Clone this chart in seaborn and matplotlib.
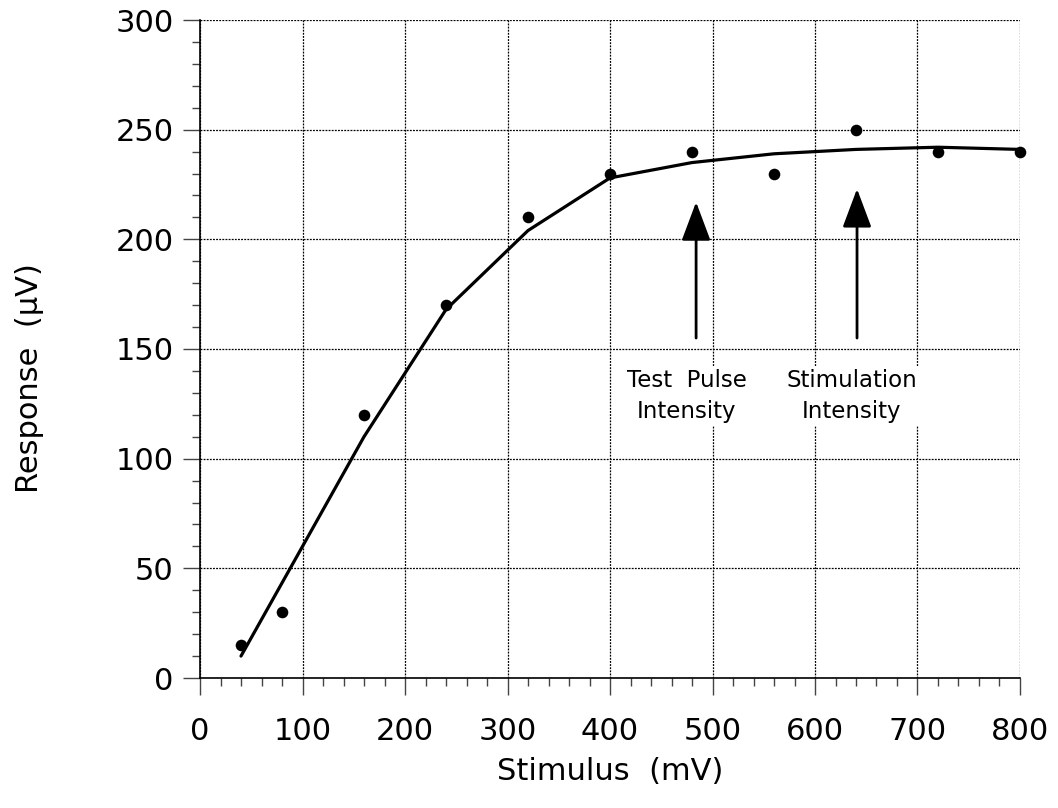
import matplotlib
matplotlib.use("Agg")
import matplotlib.pyplot as plt
from matplotlib.ticker import MultipleLocator
import numpy as np
import pandas as pd
import seaborn as sns

# Measured responses at each stimulus intensity
stim_points = [40, 80, 160, 240, 320, 400, 480, 560, 640, 720, 800]
resp_points = [15, 30, 120, 170, 210, 230, 240, 230, 250, 240, 240]

# Fitted input/output curve
stim_fit = [40, 160, 240, 320, 400, 480, 560, 640, 720, 800]
resp_fit = [10, 110, 168, 204, 228, 235, 239, 241, 242, 241]

# Annotated intensities (arrow x, tip y, tail y, label x, label)
arrow_x = [484, 641]
arrow_tip = [217, 223]
arrow_tail = [155, 155]
label_x = [475, 636]
arrow_labels = ["Test  Pulse\nIntensity", "Stimulation\nIntensity"]

x_ticks = [0, 100, 200, 300, 400, 500, 600, 700, 800]
y_ticks = [0, 50, 100, 150, 200, 250, 300]

sns.set_style("white")
plt.rcParams["font.family"] = ["DejaVu Sans"]

fig = plt.figure(figsize=(10.58, 8.08), dpi=100)
ax = fig.add_axes([200 / 1058, 130 / 808, 820 / 1058, 658 / 808])

df_pts = pd.DataFrame({"stim": stim_points, "resp": resp_points})
df_fit = pd.DataFrame({"stim": stim_fit, "resp": resp_fit})

sns.lineplot(data=df_fit, x="stim", y="resp", ax=ax, color="black",
             linewidth=2.3, zorder=3)
sns.scatterplot(data=df_pts, x="stim", y="resp", ax=ax, color="black",
                s=70, edgecolor="black", linewidth=0, zorder=4, clip_on=False)

for x, tip, tail, lx, lab in zip(arrow_x, arrow_tip, arrow_tail, label_x,
                                 arrow_labels):
    ax.annotate("", xy=(x, tip), xytext=(x, tail),
                arrowprops=dict(arrowstyle="-|>,head_length=2.4,head_width=0.9",
                                mutation_scale=10, color="black", lw=2.0,
                                shrinkA=0, shrinkB=0), zorder=5)
    ax.text(lx, 141, lab, ha="center", va="top", fontsize=16.5,
            linespacing=1.45, color="black", zorder=2,
            bbox=dict(facecolor="white", edgecolor="none", pad=2))

ax.set_xlim(0, 800)
ax.set_ylim(0, 300)
ax.set_xticks(x_ticks)
ax.set_yticks(y_ticks)
ax.xaxis.set_minor_locator(MultipleLocator(20))
ax.yaxis.set_minor_locator(MultipleLocator(10))

ax.grid(True, which="major", color="black", linestyle=(0, (1.5, 1.0)),
        linewidth=0.9)
ax.set_axisbelow(True)

for side in ("top", "right"):
    ax.spines[side].set_visible(False)
for side in ("left", "bottom"):
    ax.spines[side].set_color("black")
    ax.spines[side].set_linewidth(1.2)

ax.tick_params(axis="both", which="both", bottom=True, left=True,
               top=False, right=False)
ax.tick_params(axis="both", which="major", direction="out", length=12,
               width=1.0, color="#444444", labelsize=22, labelcolor="black")
ax.tick_params(axis="both", which="minor", direction="out", length=6,
               width=1.0, color="#444444")
ax.tick_params(axis="x", which="major", pad=16)
ax.tick_params(axis="y", which="major", pad=7)

ax.set_xlabel("Stimulus  (mV)", fontsize=22, labelpad=8, color="black")
ax.set_ylabel("Response  (\u00b5V)", fontsize=22, color="black")
ax.yaxis.set_label_coords(-0.19, 0.456)

fig.savefig("out.png", dpi=100)
